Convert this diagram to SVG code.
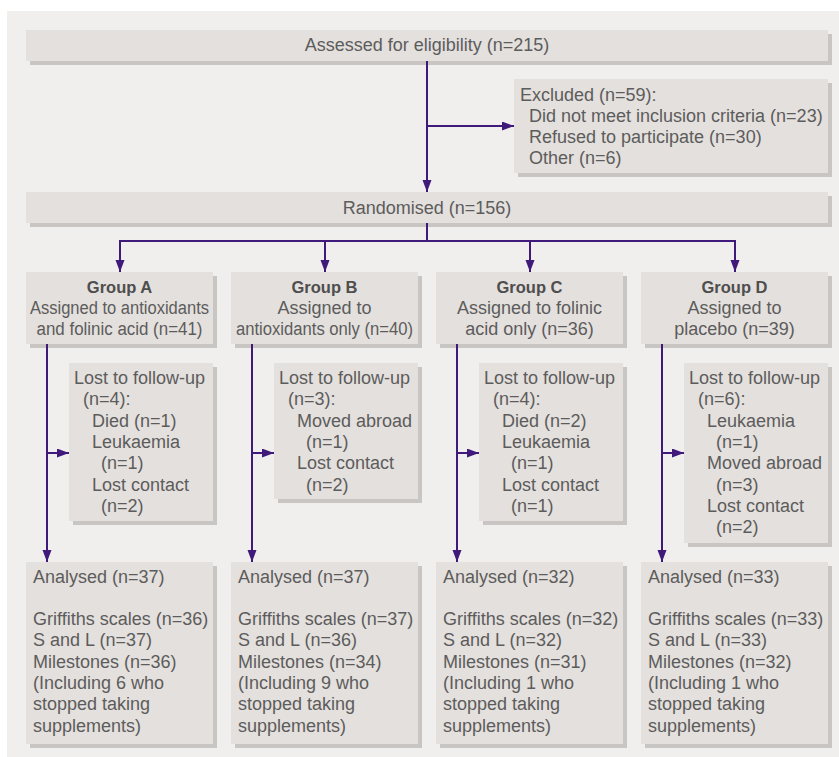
<svg xmlns="http://www.w3.org/2000/svg" width="839" height="757" viewBox="0 0 839 757">
<defs>
<style>
.bg{fill:#f0efee}
.sh{fill:#c9c5c2}
.bx{fill:#e4e0dd}
text{font-family:"Liberation Sans",Arial,sans-serif;font-size:18px;fill:#5c5c5c}
.c{text-anchor:middle}
.b{font-weight:bold;font-size:16.5px;fill:#4e4e4e}
.ln{fill:none;stroke:#3f1a7a;stroke-width:2}
</style>
<marker id="ah" markerUnits="userSpaceOnUse" markerWidth="12" markerHeight="10" refX="12" refY="4.5" orient="auto">
<path d="M0,0 L12,4.5 L0,9 z" fill="#3f1a7a"/>
</marker>
</defs>
<rect class="bg" x="7" y="11" width="832" height="746"/>

<g id="assessed">
<rect class="sh" x="30" y="34" width="802" height="31"/>
<rect class="bx" x="26" y="30" width="802" height="31"/>
<text class="c" x="427" y="51">Assessed for eligibility (n=215)</text>
</g>

<g id="excluded">
<rect class="sh" x="518" y="83" width="314" height="94"/>
<rect class="bx" x="514" y="79" width="314" height="94"/>
<text x="520" y="100.5">Excluded (n=59):</text>
<text x="529" y="121.5">Did not meet inclusion criteria (n=23)</text>
<text x="529" y="142.5">Refused to participate (n=30)</text>
<text x="529" y="163.5">Other (n=6)</text>
</g>

<g id="randomised">
<rect class="sh" x="30" y="196" width="802" height="31"/>
<rect class="bx" x="26" y="192" width="802" height="31"/>
<text class="c" x="427" y="213.5">Randomised (n=156)</text>
</g>

<g id="groupA">
<rect class="sh" x="30" y="276" width="187" height="72"/>
<rect class="bx" x="26" y="272" width="187" height="72"/>
<text class="c b" x="119.5" y="292.5">Group A</text>
<text class="c" x="119.5" y="313.5" textLength="179" lengthAdjust="spacingAndGlyphs">Assigned to antioxidants</text>
<text class="c" x="119.5" y="334.5" textLength="166" lengthAdjust="spacingAndGlyphs">and folinic acid (n=41)</text>
</g>
<g id="groupB">
<rect class="sh" x="235" y="276" width="187" height="72"/>
<rect class="bx" x="231" y="272" width="187" height="72"/>
<text class="c b" x="324.5" y="292.5">Group B</text>
<text class="c" x="324.5" y="313.5">Assigned to</text>
<text class="c" x="324.5" y="334.5" textLength="177" lengthAdjust="spacingAndGlyphs">antioxidants only (n=40)</text>
</g>
<g id="groupC">
<rect class="sh" x="440" y="276" width="187" height="72"/>
<rect class="bx" x="436" y="272" width="187" height="72"/>
<text class="c b" x="529.5" y="292.5">Group C</text>
<text class="c" x="529.5" y="313.5">Assigned to folinic</text>
<text class="c" x="529.5" y="334.5">acid only (n=36)</text>
</g>
<g id="groupD">
<rect class="sh" x="645" y="276" width="187" height="72"/>
<rect class="bx" x="641" y="272" width="187" height="72"/>
<text class="c b" x="734.5" y="292.5">Group D</text>
<text class="c" x="734.5" y="313.5">Assigned to</text>
<text class="c" x="734.5" y="334.5">placebo (n=39)</text>
</g>

<g id="lostA">
<rect class="sh" x="73" y="367" width="144" height="158"/>
<rect class="bx" x="69" y="363" width="144" height="158"/>
<text x="74" y="384">Lost to follow-up</text>
<text x="83" y="405.3">(n=4):</text>
<text x="92" y="426.6">Died (n=1)</text>
<text x="92" y="447.9">Leukaemia</text>
<text x="101" y="469.2">(n=1)</text>
<text x="92" y="490.5">Lost contact</text>
<text x="101" y="511.8">(n=2)</text>
</g>
<g id="lostB">
<rect class="sh" x="278" y="367" width="144" height="136"/>
<rect class="bx" x="274" y="363" width="144" height="136"/>
<text x="279" y="384">Lost to follow-up</text>
<text x="288" y="405.3">(n=3):</text>
<text x="297" y="426.6">Moved abroad</text>
<text x="306" y="447.9">(n=1)</text>
<text x="297" y="469.2">Lost contact</text>
<text x="306" y="490.5">(n=2)</text>
</g>
<g id="lostC">
<rect class="sh" x="483" y="367" width="144" height="158"/>
<rect class="bx" x="479" y="363" width="144" height="158"/>
<text x="484" y="384">Lost to follow-up</text>
<text x="493" y="405.3">(n=4):</text>
<text x="502" y="426.6">Died (n=2)</text>
<text x="502" y="447.9">Leukaemia</text>
<text x="511" y="469.2">(n=1)</text>
<text x="502" y="490.5">Lost contact</text>
<text x="511" y="511.8">(n=1)</text>
</g>
<g id="lostD">
<rect class="sh" x="688" y="367" width="144" height="180"/>
<rect class="bx" x="684" y="363" width="144" height="180"/>
<text x="689" y="384">Lost to follow-up</text>
<text x="698" y="405.3">(n=6):</text>
<text x="707" y="426.6">Leukaemia</text>
<text x="716" y="447.9">(n=1)</text>
<text x="707" y="469.2">Moved abroad</text>
<text x="716" y="490.5">(n=3)</text>
<text x="707" y="511.8">Lost contact</text>
<text x="716" y="533.1">(n=2)</text>
</g>

<g id="analysedA">
<rect class="sh" x="30" y="566" width="187" height="182"/>
<rect class="bx" x="26" y="562" width="187" height="182"/>
<text x="33" y="582.5">Analysed (n=37)</text>
<text x="33" y="625.1">Griffiths scales (n=36)</text>
<text x="33" y="646.4">S and L (n=37)</text>
<text x="33" y="667.7">Milestones (n=36)</text>
<text x="33" y="689">(Including 6 who</text>
<text x="33" y="710.3">stopped taking</text>
<text x="33" y="731.6">supplements)</text>
</g>
<g id="analysedB">
<rect class="sh" x="235" y="566" width="187" height="182"/>
<rect class="bx" x="231" y="562" width="187" height="182"/>
<text x="238" y="582.5">Analysed (n=37)</text>
<text x="238" y="625.1">Griffiths scales (n=37)</text>
<text x="238" y="646.4">S and L (n=36)</text>
<text x="238" y="667.7">Milestones (n=34)</text>
<text x="238" y="689">(Including 9 who</text>
<text x="238" y="710.3">stopped taking</text>
<text x="238" y="731.6">supplements)</text>
</g>
<g id="analysedC">
<rect class="sh" x="440" y="566" width="187" height="182"/>
<rect class="bx" x="436" y="562" width="187" height="182"/>
<text x="443" y="582.5">Analysed (n=32)</text>
<text x="443" y="625.1">Griffiths scales (n=32)</text>
<text x="443" y="646.4">S and L (n=32)</text>
<text x="443" y="667.7">Milestones (n=31)</text>
<text x="443" y="689">(Including 1 who</text>
<text x="443" y="710.3">stopped taking</text>
<text x="443" y="731.6">supplements)</text>
</g>
<g id="analysedD">
<rect class="sh" x="645" y="566" width="187" height="182"/>
<rect class="bx" x="641" y="562" width="187" height="182"/>
<text x="648" y="582.5">Analysed (n=33)</text>
<text x="648" y="625.1">Griffiths scales (n=33)</text>
<text x="648" y="646.4">S and L (n=33)</text>
<text x="648" y="667.7">Milestones (n=32)</text>
<text x="648" y="689">(Including 1 who</text>
<text x="648" y="710.3">stopped taking</text>
<text x="648" y="731.6">supplements)</text>
</g>

<g id="connectors">
<path class="ln" d="M427,61 V192" marker-end="url(#ah)"/>
<path class="ln" d="M427,126 H514" marker-end="url(#ah)"/>
<path class="ln" d="M427,223 V241 M119,241 H736"/>
<path class="ln" d="M120,240 V272" marker-end="url(#ah)"/>
<path class="ln" d="M325,241 V272" marker-end="url(#ah)"/>
<path class="ln" d="M530,241 V272" marker-end="url(#ah)"/>
<path class="ln" d="M735,240 V272" marker-end="url(#ah)"/>
<path class="ln" d="M47,344 V562" marker-end="url(#ah)"/>
<path class="ln" d="M252,344 V562" marker-end="url(#ah)"/>
<path class="ln" d="M457,344 V562" marker-end="url(#ah)"/>
<path class="ln" d="M662,344 V562" marker-end="url(#ah)"/>
<path class="ln" d="M47,453 H69" marker-end="url(#ah)"/>
<path class="ln" d="M252,453 H274" marker-end="url(#ah)"/>
<path class="ln" d="M457,453 H479" marker-end="url(#ah)"/>
<path class="ln" d="M662,453 H684" marker-end="url(#ah)"/>
</g>
</svg>
